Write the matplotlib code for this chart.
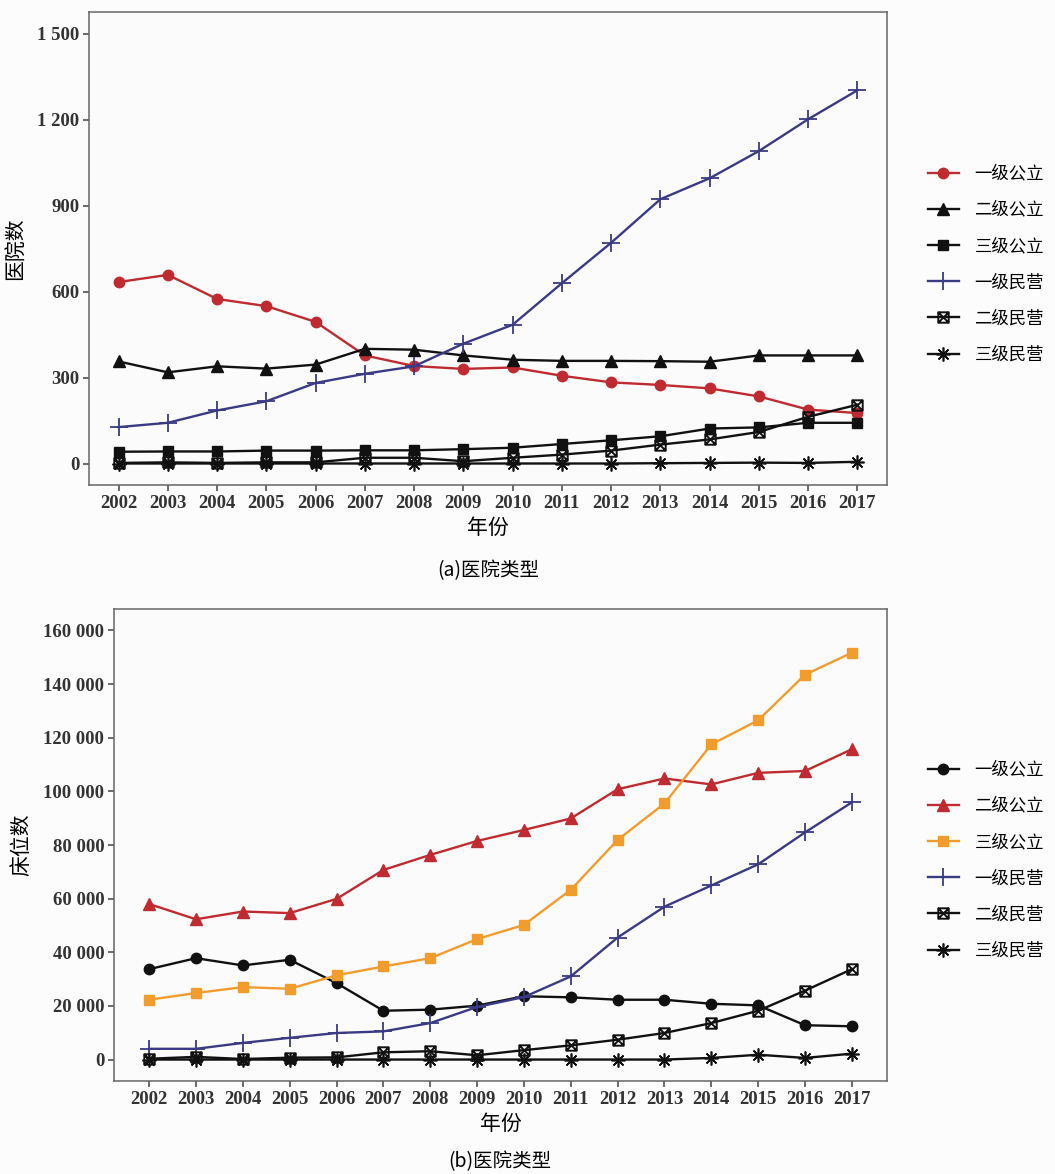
import numpy as np
import matplotlib
matplotlib.use("Agg")
import matplotlib.pyplot as plt
from matplotlib.path import Path
from matplotlib.ticker import FuncFormatter

plt.rcParams['font.family'] = ['Noto Sans CJK SC', 'DejaVu Sans']

years = list(range(2002, 2018))
labels = ['一级公立', '二级公立', '三级公立', '一级民营', '二级民营', '三级民营']

# hospital counts
hosp_l1_pub = [633, 658, 574, 549, 494, 377, 340, 330, 335, 306, 283, 274, 262, 234, 188, 176]
hosp_l2_pub = [356, 318, 339, 331, 345, 400, 397, 377, 362, 358, 358, 357, 355, 377, 377, 377]
hosp_l3_pub = [41, 42, 42, 45, 45, 46, 46, 50, 55, 68, 81, 95, 122, 126, 142, 142]
hosp_l1_pri = [127, 142, 185, 217, 281, 313, 339, 418, 484, 629, 770, 922, 995, 1090, 1201, 1302]
hosp_l2_pri = [2, 4, 2, 4, 4, 20, 20, 8, 20, 31, 45, 66, 84, 110, 163, 205]
hosp_l3_pri = [0, 0, 0, 0, 0, 0, 0, 0, 0, 0, 0, 1, 2, 3, 2, 6]

# bed counts
beds_l1_pub = [33700, 37800, 35100, 37200, 28500, 18200, 18600, 20100, 23600, 23200, 22300, 22300, 20800, 20200, 12800, 12400]
beds_l2_pub = [58000, 52300, 55200, 54600, 59900, 70700, 76300, 81500, 85600, 89900, 100800, 104800, 102600, 106900, 107600, 115700]
beds_l3_pub = [22300, 24800, 27000, 26400, 31400, 34700, 37800, 44900, 50200, 63300, 81900, 95500, 117500, 126500, 143500, 151700]
beds_l1_pri = [4000, 4000, 6200, 8100, 9900, 10500, 13600, 19600, 23300, 31000, 45500, 57000, 64900, 72800, 84700, 95900]
beds_l2_pri = [300, 1000, 200, 700, 800, 2700, 3100, 1600, 3500, 5300, 7400, 9900, 13600, 18200, 25700, 33700]
beds_l3_pri = [0, 0, 0, 0, 0, 0, 0, 0, 0, 0, 0, 0, 600, 1800, 600, 2200]

RED = '#BF2B30'
NAVY = '#3A3A85'
ORANGE = '#F39C2E'
BLACK = '#111111'

# square with a cross inside (hollow)
box_x = Path([(-1, -1), (1, -1), (1, 1), (-1, 1), (-1, -1),
              (-1, -1), (1, 1), (-1, 1), (1, -1)],
             [Path.MOVETO, Path.LINETO, Path.LINETO, Path.LINETO, Path.CLOSEPOLY,
              Path.MOVETO, Path.LINETO, Path.MOVETO, Path.LINETO])

serif = {'family': 'Liberation Serif', 'weight': 'bold', 'size': 13.5}


def space_thousands(v, pos):
    s = f'{int(round(v)):,}'
    return s.replace(',', ' ')


def style_axes(ax, ylim, yticks, xpad):
    ax.set_facecolor('#fbfbfb')
    ax.set_xlim(years[0] - xpad, years[-1] + xpad)
    ax.set_ylim(*ylim)
    ax.set_xticks(years)
    ax.set_yticks(yticks)
    ax.yaxis.set_major_formatter(FuncFormatter(space_thousands))
    for lab in ax.get_xticklabels() + ax.get_yticklabels():
        lab.set_fontproperties(matplotlib.font_manager.FontProperties(**serif))
        lab.set_color('#333333')
    ax.tick_params(direction='out', length=4, width=1.1, color='#444444', pad=3)
    for sp in ax.spines.values():
        sp.set_color('#666666')
        sp.set_linewidth(1.1)


def plot_series(ax, series, styles):
    for vals, lab, (color, marker, ms, mfc, mew) in zip(series, labels, styles):
        ax.plot(years, vals, color=color, lw=1.7, marker=marker, markersize=ms,
                markerfacecolor=mfc, markeredgecolor=color, markeredgewidth=mew,
                label=lab)


def add_legend(ax, top_px):
    ax.legend(loc='upper left', bbox_to_anchor=(912 / W, 1 - top_px / H),
              bbox_transform=fig.transFigure, frameon=False, fontsize=12.5,
              handlelength=1.8, handletextpad=0.9, labelspacing=1.05)


W, H = 1055, 1174
fig = plt.figure(figsize=(W / 100, H / 100), dpi=100, facecolor='#fcfcfc')

# (a) hospitals
ax1 = fig.add_axes([89 / W, 1 - 485 / H, (887 - 89) / W, (485 - 12) / H])
styles_a = [
    (RED, 'o', 7.5, RED, 1),
    (BLACK, '^', 8.5, BLACK, 1),
    (BLACK, 's', 7, BLACK, 1),
    (NAVY, '+', 13, NAVY, 1.3),
    (BLACK, box_x, 7.5, 'none', 1.4),
    (BLACK, (8, 2, 0), 10, BLACK, 1.2),
]
plot_series(ax1, [hosp_l1_pub, hosp_l2_pub, hosp_l3_pub,
                  hosp_l1_pri, hosp_l2_pri, hosp_l3_pri], styles_a)
style_axes(ax1, (-75, 1575), [0, 300, 600, 900, 1200, 1500], 0.6)
ax1.set_xlabel('年份', fontsize=15, labelpad=4)
ax1.set_ylabel('医院数', fontsize=15, labelpad=8)
add_legend(ax1, 149)
fig.text(488 / W, 1 - 571 / H, '(a)医院类型', ha='center', va='center', fontsize=14)

# (b) beds
ax2 = fig.add_axes([114 / W, 1 - 1081 / H, (887 - 114) / W, (1081 - 609) / H])
styles_b = [
    (BLACK, 'o', 7.5, BLACK, 1),
    (RED, '^', 8.5, RED, 1),
    (ORANGE, 's', 7, ORANGE, 1),
    (NAVY, '+', 13, NAVY, 1.3),
    (BLACK, box_x, 7.5, 'none', 1.4),
    (BLACK, (8, 2, 0), 10, BLACK, 1.2),
]
plot_series(ax2, [beds_l1_pub, beds_l2_pub, beds_l3_pub,
                  beds_l1_pri, beds_l2_pri, beds_l3_pri], styles_b)
style_axes(ax2, (-8000, 168000), list(range(0, 160001, 20000)), 0.75)
ax2.set_xlabel('年份', fontsize=15, labelpad=4)
ax2.set_ylabel('床位数', fontsize=15, labelpad=8)
add_legend(ax2, 745)
fig.text(500 / W, 1 - 1162 / H, '(b)医院类型', ha='center', va='center', fontsize=14)

fig.savefig('out.png', dpi=100, facecolor=fig.get_facecolor())
